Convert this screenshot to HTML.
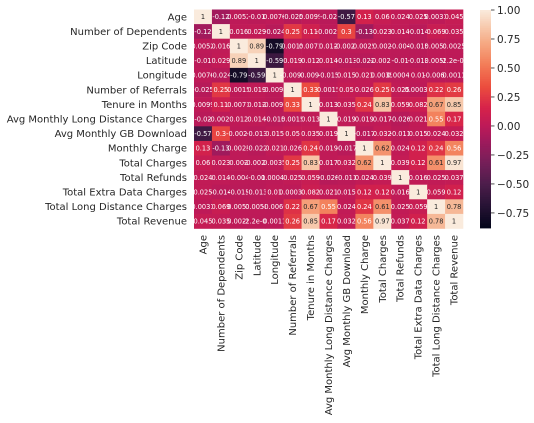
<!DOCTYPE html>
<html><head><meta charset="utf-8"><style>
html,body{margin:0;padding:0;background:#fff;}
svg{display:block;font-family:"DejaVu Sans","Liberation Sans",sans-serif;}
</style></head><body>
<svg id="chart" width="534" height="423" viewBox="0 0 534 423"></svg>
<script>
const labels = ["Age","Number of Dependents","Zip Code","Latitude","Longitude","Number of Referrals","Tenure in Months","Avg Monthly Long Distance Charges","Avg Monthly GB Download","Monthly Charge","Total Charges","Total Refunds","Total Extra Data Charges","Total Long Distance Charges","Total Revenue"];
const row0 = [1,-0.12,0.0052,-0.01,0.0076,-0.025,0.0099,-0.02,-0.57,0.13,0.06,0.024,0.025,0.0031,0.045];
const row1 = [-0.12,1,0.016,0.029,-0.024,0.25,0.11,-0.0029,0.3,-0.13,0.023,0.014,-0.014,0.069,0.035];
const row2 = [0.0052,0.016,1,0.89,-0.79,0.0015,0.0071,0.012,-0.0028,0.0025,0.002,-0.004,-0.015,0.0051,0.0025];
const row3 = [-0.01,0.029,0.89,1,-0.59,0.019,0.012,0.014,-0.013,-0.022,-0.0026,-0.01,-0.013,0.0058,-2.2e-06];
const row4 = [0.0076,-0.024,-0.79,-0.59,1,-0.0098,-0.0097,-0.015,0.015,0.021,0.0035,0.00042,0.01,-0.0069,0.0011];
const row5 = [-0.025,0.25,0.0015,0.019,-0.0098,1,0.33,0.0015,0.05,0.026,0.25,0.025,0.00035,0.22,0.26];
const row6 = [0.0099,0.11,0.0071,0.012,-0.0097,0.33,1,0.013,0.035,0.24,0.83,0.059,0.082,0.67,0.85];
const row7 = [-0.02,-0.0029,0.012,0.014,-0.015,0.0015,0.013,1,0.019,0.019,0.017,-0.026,0.021,0.55,0.17];
const row8 = [-0.57,0.3,-0.0028,-0.013,0.015,0.05,0.035,0.019,1,-0.017,0.032,-0.011,0.015,0.024,0.032];
const row9 = [0.13,-0.13,0.0025,-0.022,0.021,0.026,0.24,0.019,-0.017,1,0.62,0.024,0.12,0.24,0.56];
const row10 = [0.06,0.023,0.002,-0.0026,0.0035,0.25,0.83,0.017,0.032,0.62,1,0.039,0.12,0.61,0.97];
const row11 = [0.024,0.014,-0.004,-0.01,0.00042,0.025,0.059,-0.026,-0.011,0.024,0.039,1,0.016,0.025,0.037];
const row12 = [0.025,-0.014,-0.015,-0.013,0.01,0.00035,0.082,0.021,0.015,0.12,0.12,0.016,1,0.059,0.12];
const row13 = [0.0031,0.069,0.0051,0.0058,-0.0069,0.22,0.67,0.55,0.024,0.24,0.61,0.025,0.059,1,0.78];
const row14 = [0.045,0.035,0.0025,-2.2e-06,0.0011,0.26,0.85,0.17,0.032,0.56,0.97,0.037,0.12,0.78,1];
const matrix = [row0,row1,row2,row3,row4,row5,row6,row7,row8,row9,row10,row11,row12,row13,row14];
const cbTicks = [1.0,0.75,0.5,0.25,0.0,-0.25,-0.5,-0.75];
const vmin = -0.88, vmax = 1.0;

const NS = "http://www.w3.org/2000/svg";
const svg = document.getElementById("chart");
const X0 = 194, X1 = 463, Y0 = 9.5, Y1 = 228.5;
const n = labels.length;
const cw = (X1 - X0) / n, ch = (Y1 - Y0) / n;
function xPos(i){ return X0 + i * cw; }
function yPos(i){ return Y0 + i * ch; }
const stops = [[0,[3,5,26]],[0.1,[38,19,52]],[0.2,[76,29,75]],[0.3,[118,31,89]],[0.4,[160,26,92]],[0.47,[190,26,88]],[0.55,[214,34,74]],[0.65,[236,78,62]],[0.75,[243,125,88]],[0.85,[246,170,132]],[0.93,[247,205,178]],[1,[250,235,221]]];
function color(v){
  let t = Math.max(0, Math.min(1, (v - vmin) / (vmax - vmin)));
  for (let k = 1; k < stops.length; k++) {
    if (t <= stops[k][0]) {
      const a = stops[k-1], b = stops[k], f = (t - a[0]) / (b[0] - a[0]);
      const c = a[1].map((x, j) => Math.round(x + (b[1][j] - x) * f));
      return "rgb(" + c.join(",") + ")";
    }
  }
  return "rgb(250,235,221)";
}
function fmt(v){
  if (v === 1) return "1";
  if (Math.abs(v) < 1e-4 && v !== 0) return v.toExponential(1).replace(/e([+-])(\d)$/, "e$10$2");
  return String(+v.toPrecision(2));
}
function el(tag, attrs){ const e = document.createElementNS(NS, tag); for (const k in attrs) e.setAttribute(k, attrs[k]); svg.appendChild(e); return e; }

for (let r = 0; r < n; r++) {
  for (let c = 0; c < n; c++) {
    const v = matrix[r][c];
    const rect = el("rect", {x: xPos(c), y: yPos(r), width: cw + 0.3, height: ch + 0.3, fill: color(v)});
    
    
    const t = el("text", {x: xPos(c) + cw/2, y: yPos(r) + ch/2 + 2.4, "font-size": 6.6, "text-anchor": "middle", fill: v > 0.6 ? "#262626" : "#ffffff"});
    t.textContent = fmt(v);
    
    
  }
}
for (let i = 0; i < n; i++) {
  const yl = el("text", {x: 187, y: yPos(i) + ch/2 + 3.5, "font-size": 10, "text-anchor": "end", fill: "#262626"});
  yl.textContent = labels[i];
  
  
  const cx = xPos(i) + cw/2 + 3.5;
  const xl = el("text", {x: cx, y: 235, "font-size": 10, "text-anchor": "end", fill: "#262626", transform: "rotate(-90 " + cx + " 235)"});
  xl.textContent = labels[i];
  
  
}
const CBX = 480, CBW = 11, CBT = 10, CBB = 228;
function cbY(v){ return CBT + (vmax - v) / (vmax - vmin) * (CBB - CBT); }
const steps = 120;
for (let k = 0; k < steps; k++) {
  const v = vmax - (vmax - vmin) * (k + 0.5) / steps;
  const s = el("rect", {x: CBX, y: CBT + (CBB - CBT) * k / steps, width: CBW, height: (CBB - CBT) / steps + 0.4, fill: color(v)});
  
  
}
cbTicks.forEach(v => {
  const y = cbY(v);
  const tk = el("line", {x1: CBX + CBW, x2: CBX + CBW + 3.5, y1: y, y2: y, stroke: "#262626", "stroke-width": 0.8});
  
  
  const tl = el("text", {x: CBX + CBW + 6, y: y + 4, "font-size": 10.5, fill: "#262626"});
  tl.textContent = v.toFixed(2).replace("-", "\u2212");
  
  
});
</script>
</body></html>
